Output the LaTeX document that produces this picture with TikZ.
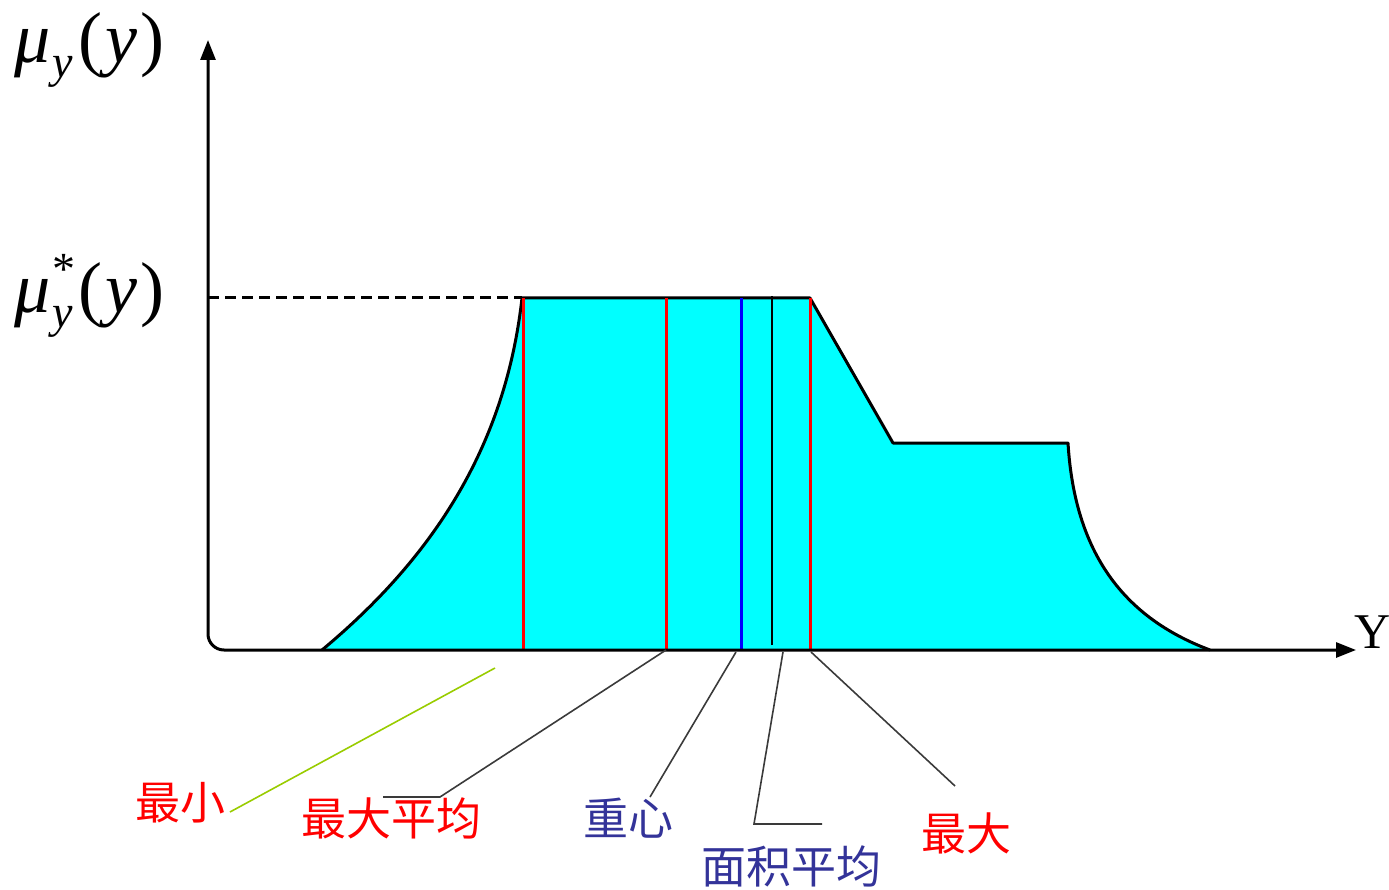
\documentclass[tikz,border=0pt]{standalone}
\usepackage{fontspec}
\setmainfont{Liberation Serif}
\newfontfamily\cjk{Noto Sans CJK SC}
\usetikzlibrary{arrows.meta}
\definecolor{fzInk}{HTML}{000000}
\definecolor{fzCyan}{HTML}{00FFFF}
\definecolor{fzRed}{HTML}{FF0000}
\definecolor{fzBlue}{HTML}{0000FF}
\definecolor{fzNavy}{HTML}{333399}
\definecolor{fzLime}{HTML}{99CC00}
\definecolor{fzLead}{HTML}{3A3A3A}
\newcommand{\subY}{\raisebox{-15pt}{\fontsize{46}{50}\selectfont\itshape y}}
\newcommand{\argY}{\kern6pt\upshape(\kern3pt\itshape y\kern3pt\upshape)}
\tikzset{
  axis/.style   = {line width=3pt, color=fzInk,
                   {Triangle[length=20pt,width=15pt]}-{Triangle[length=20pt,width=15pt]}},
  outline/.style = {line width=3pt, color=fzInk, line join=round},
  cut/.style    = {line width=3pt, color=#1},
  cut/.default  = fzRed,
  thin/.style   = {line width=1.4pt, color=fzInk},
  lead/.style   = {line width=1.6pt, color=fzLead},
  lbl/.style    = {font=\cjk\fontsize{45}{50}\selectfont, inner sep=0, text=#1},
  lbl/.default  = fzRed,
  sym/.style    = {font=\fontsize{72}{76}\selectfont, inner sep=0},
}

\begin{document}
\begin{tikzpicture}[x=1pt, y=-1pt, line cap=butt]
\useasboundingbox (0,0) rectangle (1389,890);

% key points on the axes
\coordinate (yTop)  at (208,40);
\coordinate (xEnd)  at (1356,650);
\coordinate (orig)  at (208,650);

% --- membership set ---
\fill[fzCyan]
  (322,650) .. controls (430,560) and (505,450) .. (522,298)
  -- (810,298) -- (893,443) -- (1068,443)
  .. controls (1075,560) and (1130,620) .. (1210,650) -- cycle;
\draw[outline]
  (322,650) .. controls (430,560) and (505,450) .. (522,298)
  -- (810,298) -- (893,443) -- (1068,443)
  .. controls (1075,560) and (1130,620) .. (1210,650);

% level of the peak
\draw[line width=3pt, dash pattern=on 11pt off 6pt] (orig |- 0,298) -- (522,298);

% --- defuzzified values ---
\coordinate (fMin)    at (523,650);
\coordinate (fMaxAvg) at (666,650);
\coordinate (fCog)    at (741,650);
\coordinate (fArea)   at (772,650);
\coordinate (fMax)    at (810,650);
\draw[cut]        (fMaxAvg) -- (666,298);
\draw[cut=fzBlue] (fCog) -- (741,298);
\draw[thin]       (772,645) -- (772,296);
\draw[cut]        (fMax) -- (810,298);
\draw[cut]        (fMin) -- (523,298);

% axes
\draw[axis, rounded corners=16pt] (xEnd) -- (orig) -- (yTop);

% axis labels
\node[sym, anchor=west] (muLbl)  at (14,50)
  {\itshape μ\kern2pt\subY\argY};
\node[sym, anchor=west] (muStar) at (14,296)
  {\itshape μ\kern2pt\rlap{\raisebox{28pt}{\fontsize{46}{50}\selectfont\upshape *}}\subY\argY};
\node[inner sep=0, font=\fontsize{50}{55}\selectfont] (yLbl) at (1373,632) {Y};

% --- names of the methods ---
\node[lbl]        (lMin)    at (180,803) {最小};
\node[lbl]        (lMaxAvg) at (391,818) {最大平均};
\node[lbl=fzNavy] (lCog)    at (628,818) {重心};
\node[lbl=fzNavy] (lArea)   at (791,866) {面积平均};
\node[lbl]        (lMax)    at (966,833) {最大};

% leaders
\coordinate (kMin)    at (495,668);
\coordinate (kMinEnd) at (230,812);
\coordinate (kMaxAvg) at (440,797);
\coordinate (kArea)   at (783,652);
\coordinate (kAreaB)  at (754,824);
\draw[line width=1.6pt, color=fzLime] (kMin) -- (kMinEnd);
\draw[lead] (fMaxAvg) -- (kMaxAvg) -- (383,797);
\draw[lead] (736,652) -- (650,797);
\draw[lead] (kArea) -- (kAreaB) -- (822,824);
\draw[lead] (811,652) -- (955,786);

\end{tikzpicture}
\end{document}
